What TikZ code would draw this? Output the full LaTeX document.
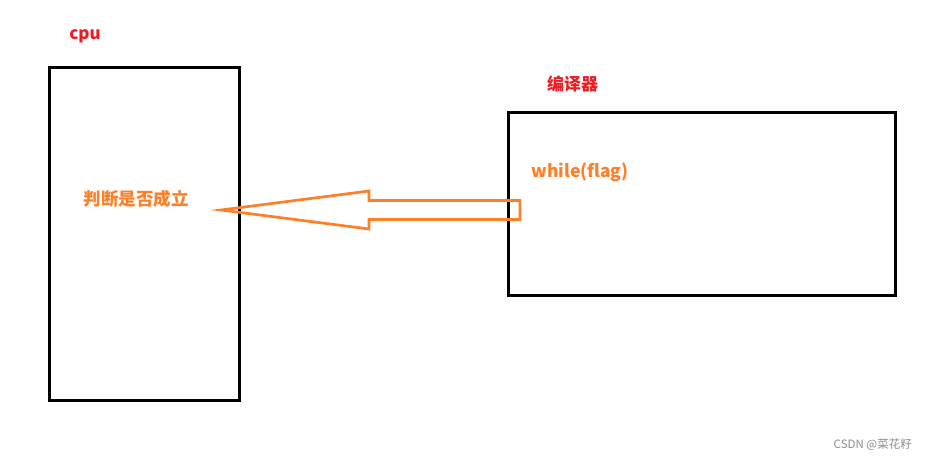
\documentclass[tikz,border=0pt]{standalone}
\usepackage{fontspec}
\setmainfont{Noto Sans CJK SC}
\usetikzlibrary{positioning}

\definecolor{paintred}{RGB}{237,28,36}
\definecolor{paintorange}{RGB}{255,127,39}

\begin{document}
\begin{tikzpicture}[
    x=1pt, y=-1pt,
    box/.style={rectangle, draw, line width=3pt, inner sep=0pt},
    title/.style={text=paintred, font=\fontsize{17}{19}\selectfont\bfseries, inner sep=0pt},
    code/.style={text=paintorange, font=\fontsize{17.5}{19}\selectfont\bfseries, inner sep=0pt},
    fatarrow/.style={draw=paintorange, line width=2.7pt, line join=miter}
]
\useasboundingbox (0,0) rectangle (935,461);

\node[box, minimum width=190pt, minimum height=333pt] (cpu) at (144,233.5) {};
\node[box, minimum width=387pt, minimum height=183pt] (compiler) at (701.5,203.5) {};

\node[title] (cpulabel) at (85,36) {cpu};
\node[title] (complabel) at (572.5,84) {编译器};

\node[code] (judge) at (136,199) {判断是否成立};
\node[code] (loop) at (580,172) {while(flag)};

\coordinate (tip) at (221,210);
\draw[fatarrow] (tip) -- ++(148,-19) -- ++(0,9.5) -- ++(151,0) -- ++(0,19)
    -- ++(-151,0) -- ++(0,9.5) -- cycle;

\node[text=black!45, font=\fontsize{11.5}{13}\selectfont, anchor=east, inner sep=0pt]
    (mark) at (912,445) {CSDN @菜花籽};
\end{tikzpicture}
\end{document}
